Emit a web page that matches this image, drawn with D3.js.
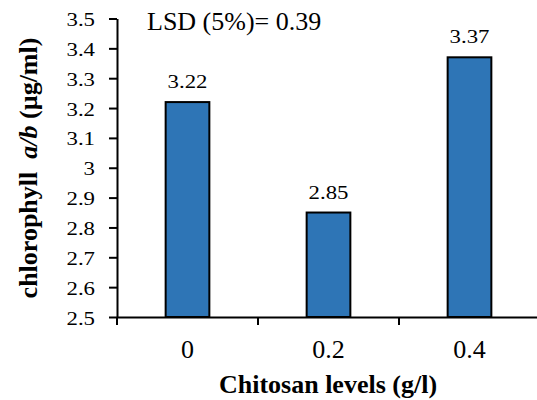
<!DOCTYPE html>
<html><head><meta charset="utf-8">
<script src="https://cdn.jsdelivr.net/npm/d3@7"></script>
<style>body{margin:0;background:#fff}svg{display:block}</style>
</head><body>
<script>
const categories = ["0", "0.2", "0.4"];
const values = [3.22, 2.85, 3.37];
const yTicks = [2.5, 2.6, 2.7, 2.8, 2.9, 3.0, 3.1, 3.2, 3.3, 3.4, 3.5];
const yTickLabels = ["2.5", "2.6", "2.7", "2.8", "2.9", "3", "3.1", "3.2", "3.3", "3.4", "3.5"];
const lsdText = "LSD (5%)= 0.39";

const W = 537, H = 400;
const svg = d3.select("body").append("svg").attr("width", W).attr("height", H);
const font = "Liberation Serif";

const x = d3.scaleBand().domain(categories).range([117, 540]).padding(0);
const y = d3.scaleLinear().domain([2.5, 3.5]).range([317, 18.5]);
const barW = x.bandwidth() * 0.31;
const cx = c => x(c) + x.bandwidth() / 2;

// bars
svg.selectAll("rect.bar").data(values).enter().append("rect")
  .attr("x", (d, i) => cx(categories[i]) - barW / 2)
  .attr("y", d => y(d))
  .attr("width", barW)
  .attr("height", d => y(2.5) - y(d))
  .attr("fill", "#2E75B6").attr("stroke", "#000").attr("stroke-width", 2);

// value labels
svg.selectAll("text.val").data(values).enter().append("text")
  .attr("transform", (d, i) => `translate(${cx(categories[i])},${y(d) - 14}) scale(1.2,1)`)
  .attr("text-anchor", "middle").attr("font-family", font).attr("font-size", 19)
  .text(d => d.toFixed(2));

// y axis
const ya = svg.append("g").attr("transform", "translate(117,0)")
  .call(d3.axisLeft(y).tickValues(yTicks).tickSize(8).tickSizeOuter(0)
    .tickFormat((d, i) => yTickLabels[i]));
ya.select(".domain").attr("stroke-width", 2);
ya.selectAll(".tick line").attr("stroke-width", 2);
ya.selectAll(".tick text")
  .attr("x", null).attr("dy", null)
  .attr("transform", "translate(-22,7) scale(1.2,1)")
  .attr("font-family", font).attr("font-size", 19).attr("fill", "#000");

// x axis
const xa = svg.append("g").attr("transform", `translate(0,${y(2.5)})`)
  .call(d3.axisBottom(x).tickSize(0).tickSizeOuter(0));
xa.select(".domain").attr("stroke-width", 2);
xa.selectAll("text").attr("font-family", font).attr("font-size", 26).attr("fill", "#000")
  .attr("dy", 0).attr("y", 41);
// boundary ticks between categories
const bounds = categories.map(c => x(c)).concat([x.range()[1]]);
svg.selectAll("line.bt").data(bounds).enter().append("line")
  .attr("x1", d => d).attr("x2", d => d).attr("y1", y(2.5)).attr("y2", y(2.5) + 8)
  .attr("stroke", "#000").attr("stroke-width", 2);

// LSD
svg.append("text").attr("x", 147).attr("y", 30).attr("font-family", font).attr("font-size", 26)
  .text(lsdText);

// x title
svg.append("text").attr("x", 328).attr("y", 393).attr("text-anchor", "middle")
  .attr("font-family", font).attr("font-size", 26).attr("font-weight", "bold")
  .text("Chitosan levels (g/l)");

// y title
const yt = svg.append("text").attr("transform", "translate(37,168) rotate(-90)")
  .attr("text-anchor", "middle").attr("font-family", font).attr("font-size", 26)
  .attr("font-weight", "bold").attr("xml:space", "preserve").style("white-space", "pre");
yt.append("tspan").text("chlorophyll  ");
yt.append("tspan").attr("font-style", "italic").text("a/b");
yt.append("tspan").text(" (µg/ml)");
</script>
</body></html>
